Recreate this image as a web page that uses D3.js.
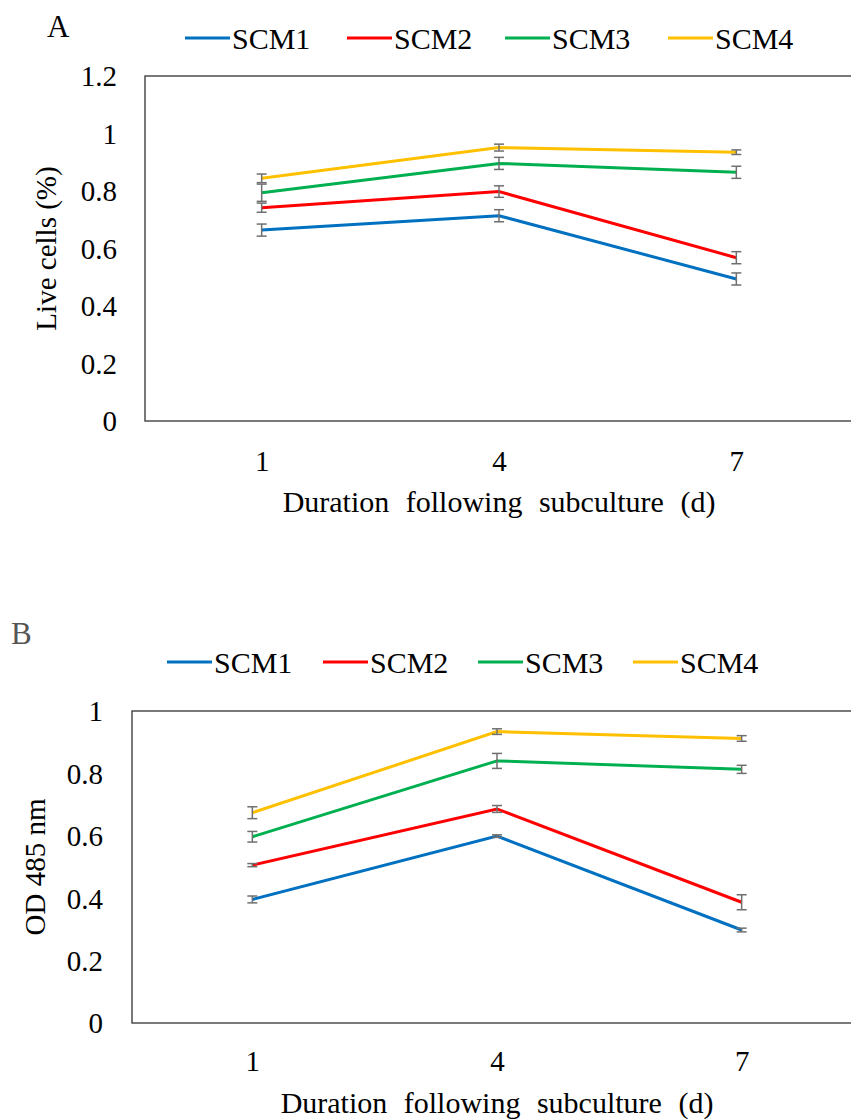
<!DOCTYPE html>
<html>
<head>
<meta charset="utf-8">
<script src="https://cdn.jsdelivr.net/npm/d3@7"></script>
</head>
<body style="margin:0; background:#fff">
<div id="svganchor"></div>
<script>
// data
let days = ["1", "4", "7"];
let seriesNames = ["SCM1", "SCM2", "SCM3", "SCM4"];
let seriesColors = ["#0070C0", "#FF0000", "#00B050", "#FFC000"];

// panel A: live cells (%)
let liveCells = [
  [0.664, 0.714, 0.494],
  [0.742, 0.798, 0.568],
  [0.794, 0.896, 0.865],
  [0.844, 0.951, 0.935]
];
let liveCellsErr = [
  [0.021, 0.021, 0.021],
  [0.016, 0.020, 0.021],
  [0.030, 0.021, 0.021],
  [0.015, 0.012, 0.008]
];
let liveTicks = [0, 0.2, 0.4, 0.6, 0.8, 1, 1.2];

// panel B: OD 485 nm
let od485 = [
  [0.396, 0.599, 0.298],
  [0.506, 0.686, 0.387],
  [0.597, 0.840, 0.813],
  [0.674, 0.934, 0.912]
];
let od485Err = [
  [0.011, 0.004, 0.006],
  [0.005, 0.011, 0.024],
  [0.017, 0.024, 0.013],
  [0.019, 0.009, 0.009]
];
let odTicks = [0, 0.2, 0.4, 0.6, 0.8, 1];

let width = 851;
let height = 1120;
let serif = "'Liberation Serif'";

let svg = d3.select("#svganchor").append("svg").attr("width", width).attr("height", height);

let panels = [
  {
    letter: "A", letterColor: "#000", letterX: 47, letterY: 37,
    values: liveCells, errors: liveCellsErr, ticks: liveTicks, yMax: 1.2,
    boxLeft: 145, left: 143, right: 855, top: 76, bottom: 421,
    yTitle: "Live cells (%)", yTitleX: 56, tickX: 117,
    legendY: 38, legendX: [185, 347, 505, 668],
    xTickY: 471, xTitleY: 512
  },
  {
    letter: "B", letterColor: "#555", letterX: 11, letterY: 644,
    values: od485, errors: od485Err, ticks: odTicks, yMax: 1,
    boxLeft: 132, left: 130, right: 864, top: 711, bottom: 1023,
    yTitle: "OD 485 nm", yTitleX: 45, tickX: 103,
    legendY: 662, legendX: [167, 323, 478, 633],
    xTickY: 1071, xTitleY: 1113
  }
];

panels.forEach(function (p) {
  let g = svg.append("g");

  let xScale = d3.scalePoint().domain(days).range([p.left, p.right]).padding(0.5);
  let yScale = d3.scaleLinear().domain([0, p.yMax]).range([p.bottom, p.top]);

  // panel letter
  g.append("text")
    .attr("x", p.letterX)
    .attr("y", p.letterY)
    .style("font-family", serif)
    .style("font-size", "31px")
    .attr("fill", p.letterColor)
    .text(p.letter);

  // legend
  seriesNames.forEach(function (name, i) {
    g.append("line")
      .attr("x1", p.legendX[i])
      .attr("x2", p.legendX[i] + 45)
      .attr("y1", p.legendY)
      .attr("y2", p.legendY)
      .attr("stroke", seriesColors[i])
      .attr("stroke-width", 3);
    g.append("text")
      .attr("x", p.legendX[i] + 47)
      .attr("y", p.legendY + 11)
      .style("font-family", serif)
      .style("font-size", "30px")
      .text(name);
  });

  // plot frame
  g.append("rect")
    .attr("x", p.boxLeft)
    .attr("y", p.top)
    .attr("width", width + 20 - p.boxLeft)
    .attr("height", p.bottom - p.top)
    .attr("fill", "none")
    .attr("stroke", "#404040")
    .attr("stroke-width", 1.4);

  // y axis (labels only)
  let yAxis = d3.axisLeft(yScale)
    .tickValues(p.ticks)
    .tickSize(0)
    .tickPadding(0)
    .tickFormat(d3.format("~g"));
  let yAxisG = g.append("g")
    .attr("transform", "translate(" + p.tickX + ",0)")
    .call(yAxis);
  yAxisG.select(".domain").remove();
  yAxisG.selectAll("text")
    .style("font-family", serif)
    .style("font-size", "29px")
    .attr("fill", "#000")
    .attr("dy", "0.34em");

  // x axis (labels only)
  let xAxis = d3.axisBottom(xScale).tickSize(0).tickPadding(0);
  let xAxisG = g.append("g")
    .attr("transform", "translate(0," + p.xTickY + ")")
    .call(xAxis);
  xAxisG.select(".domain").remove();
  xAxisG.selectAll("text")
    .style("font-family", serif)
    .style("font-size", "29px")
    .attr("fill", "#000")
    .attr("dy", 0);

  // axis titles
  g.append("text")
    .attr("x", (p.left + p.right) / 2)
    .attr("y", p.xTitleY)
    .attr("text-anchor", "middle")
    .style("font-family", serif)
    .style("font-size", "30px")
    .style("word-spacing", "9px")
    .text("Duration following subculture (d)");

  g.append("text")
    .attr("transform", "translate(" + p.yTitleX + "," + ((p.top + p.bottom) / 2) + ") rotate(-90)")
    .attr("text-anchor", "middle")
    .style("font-family", serif)
    .style("font-size", "29px")
    .text(p.yTitle);

  let line = d3.line()
    .x(function (d, i) { return xScale(days[i]); })
    .y(function (d) { return yScale(d); });

  // series lines
  p.values.forEach(function (vals, s) {
    g.append("path")
      .datum(vals)
      .attr("d", line)
      .attr("fill", "none")
      .attr("stroke", seriesColors[s])
      .attr("stroke-width", 3);
  });

  // error bars
  p.values.forEach(function (vals, s) {
    vals.forEach(function (v, i) {
      let e = p.errors[s][i];
      let cx = xScale(days[i]);
      let eb = g.append("g")
        .attr("stroke", "#6f6f6f")
        .attr("stroke-width", 1.5);
      eb.append("line")
        .attr("x1", cx).attr("x2", cx)
        .attr("y1", yScale(v - e)).attr("y2", yScale(v + e));
      [v - e, v + e].forEach(function (c) {
        eb.append("line")
          .attr("x1", cx - 5).attr("x2", cx + 5)
          .attr("y1", yScale(c)).attr("y2", yScale(c));
      });
    });
  });
});
</script>
</body>
</html>
